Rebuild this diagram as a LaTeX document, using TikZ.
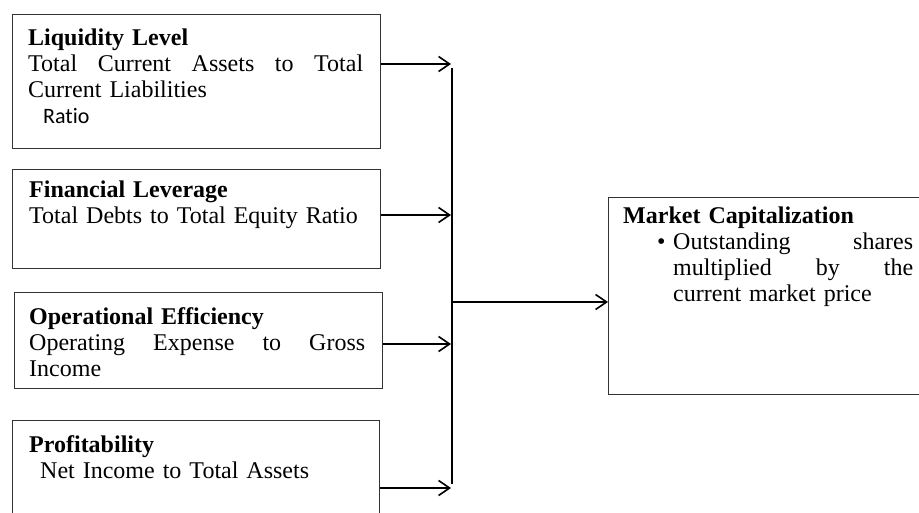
\documentclass[tikz,border=0pt]{standalone}
\usepackage{fontspec}
\setmainfont{Liberation Serif}
\newfontfamily\carlitofont{Carlito}
\usetikzlibrary{arrows.meta}
\tikzset{
  box/.style={draw=black!80, line width=1.1pt, inner sep=0pt, anchor=north west},
  txt/.style={anchor=north west, inner sep=0pt, text width=#1, align=left,
              font=\fontsize{24}{26}\selectfont},
  txt/.default=340pt,
  arr/.style={draw=black, line width=1.6pt, -{Straight Barb[length=11pt,width=15pt]}},
  busline/.style={draw=black, line width=1.8pt}
}
% a line spread to a given width, words separated by \hfill
\newcommand{\spreadline}[2]{\makebox[#1][l]{#2}}
\begin{document}
\begin{tikzpicture}[x=1pt, y=-1pt]
  \useasboundingbox (0,0) rectangle (919,513);
  \clip (0,0) rectangle (919,513);

  % indicator boxes
  \node[box, minimum width=368pt, minimum height=134pt] (b1) at (12,14) {};
  \node[box, minimum width=368pt, minimum height=99pt]  (b2) at (12,169) {};
  \node[box, minimum width=368pt, minimum height=96pt]  (b3) at (14,292) {};
  \node[box, minimum width=367pt, minimum height=120pt] (b4) at (12,420) {};
  % outcome box
  \node[box, minimum width=330pt, minimum height=197pt] (mk) at (608,197) {};

  % box texts
  \node[txt] (t1) at (28,26.8) {\strut\textbf{Liquidity Level}\\
    \spreadline{335pt}{Total\hfill Current\hfill Assets\hfill to\hfill Total}\\
    Current Liabilities\\
    \hspace*{15pt}{\carlitofont\fontsize{22}{26}\selectfont Rat\kern0pt io}};
  \node[txt] (t2) at (29,178.8) {\strut\textbf{Financial Leverage}\\
    Total Debts to Total Equity Ratio};
  \node[txt] (t3) at (29,305.8) {\strut\textbf{Operational Efficiency}\\
    \spreadline{336pt}{Operating\hfill Expense\hfill to\hfill Gross}\\
    Income};
  \node[txt] (t4) at (29,433.8) {\strut\textbf{Profitability}\\
    \hspace*{11pt}Net Income to Total Assets};
  \node[txt=300pt] (t5) at (623,204.8) {\strut\textbf{Market Capitalization}\\
    \hspace*{34pt}\makebox[16pt][l]{\textbullet}\spreadline{240pt}{Outstanding\hfill shares}\\
    \hspace*{50pt}\spreadline{240pt}{multiplied\hfill by\hfill the}\\
    \hspace*{50pt}current market price};

  % collecting bus
  \coordinate (bustop) at (452,68);
  \coordinate (busbot) at (452,484);
  \coordinate (busmid) at (452,302);
  \draw[busline] (bustop) -- (busbot);

  % inputs into the bus
  \coordinate (j1) at (451,64);
  \coordinate (j2) at (451,215);
  \coordinate (j3) at (451,344);
  \coordinate (j4) at (451,488);
  \draw[arr] (b1.east |- j1) -- (j1);
  \draw[arr] (b2.east |- j2) -- (j2);
  \draw[arr] (b3.east |- j3) -- (j3);
  \draw[arr] (b4.east |- j4) -- (j4);

  % bus into the outcome
  \draw[arr] (busmid) -- (mk.west |- busmid);
\end{tikzpicture}
\end{document}
